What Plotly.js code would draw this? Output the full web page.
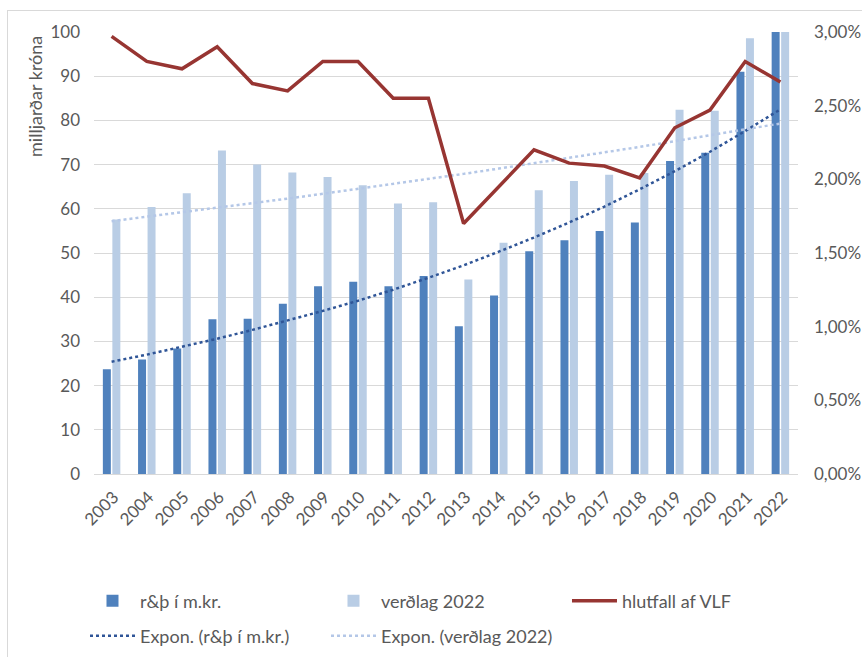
<!DOCTYPE html>
<html>
<head>
<meta charset="utf-8">
<script src="https://cdn.plot.ly/plotly-3.0.1.min.js"></script>
<style>
  html, body { margin:0; padding:0; background:#fff; }
  #chart { width:862px; height:657px; position:relative; }
  #frame { position:absolute; left:7px; top:10px; width:900px; height:700px;
           border-left:1px solid #d9d9d9; border-top:1px solid #d9d9d9; pointer-events:none; }
</style>
</head>
<body>
<div id="chart"></div>
<div id="frame"></div>
<script>
const years = ["2003","2004","2005","2006","2007","2008","2009","2010","2011","2012",
               "2013","2014","2015","2016","2017","2018","2019","2020","2021","2022"];
const rdNominal = [23.7,25.9,28.4,35.0,35.1,38.5,42.5,43.5,42.5,44.8,
                   33.4,40.4,50.4,52.9,55.0,56.9,70.8,72.7,91.0,100.0];
const rdPrices2022 = [57.6,60.4,63.5,73.2,70.0,68.2,67.2,65.3,61.2,61.5,
                      44.0,52.3,64.2,66.3,67.7,68.1,82.4,82.2,98.6,100.0];
const shareGDP = [0.0297,0.0280,0.0275,0.0290,0.0265,0.0260,0.0280,0.0280,0.0255,0.0255,
                  0.0170,0.0195,0.0220,0.0211,0.0209,0.0201,0.0235,0.0247,0.0280,0.0266];
const trendNominal = [25.4,27.0,28.8,30.6,32.6,34.7,36.9,39.2,41.7,44.4,
                      47.2,50.3,53.5,56.9,60.5,64.4,68.5,72.9,77.6,82.5];
const trendPrices = [57.2,58.2,59.2,60.2,61.3,62.3,63.4,64.5,65.6,66.8,
                     67.9,69.1,70.3,71.5,72.8,74.0,75.3,76.6,78.0,79.3];

const names = ["r&þ í m.kr.","verðlag 2022","hlutfall af VLF",
               "Expon. (r&þ í m.kr.)","Expon. (verðlag 2022)"];

const FONT = "Lato, 'Open Sans', sans-serif";
const GREY = "#595959";

const traces = [
  {type:"bar", x:years, y:rdNominal, name:names[0], marker:{color:"#4f81bd"}, legend:"legend"},
  {type:"bar", x:years, y:rdPrices2022, name:names[1], marker:{color:"#b9cde5"}, legend:"legend"},
  {type:"scatter", mode:"lines", x:years, y:shareGDP, name:names[2], yaxis:"y2",
   line:{color:"#973532", width:3.5}, legend:"legend"},
  {type:"scatter", mode:"lines", x:years, y:trendNominal, name:names[3],
   line:{color:"#2f5597", width:2.5, dash:"dot"}, legend:"legend2"},
  {type:"scatter", mode:"lines", x:years, y:trendPrices, name:names[4],
   line:{color:"#b4c7e7", width:2.5, dash:"dot"}, legend:"legend2"}
];

const legendCommon = {orientation:"h", xanchor:"left", yanchor:"middle",
  itemwidth:45, entrywidth:181, entrywidthmode:"pixels",
  font:{size:18, color:GREY}, bgcolor:"rgba(0,0,0,0)"};

const layout = {
  width:862, height:657,
  margin:{l:94, r:64, t:32, b:183, autoexpand:false},
  paper_bgcolor:"#fff", plot_bgcolor:"#fff",
  font:{family:FONT, color:GREY, size:15},
  separators:",.",
  barmode:"group", bargap:0.46, bargroupgap:0.16,
  showlegend:true,
  xaxis:{type:"category", tickangle:-45, showgrid:false, zeroline:false, automargin:false,
         showline:false, ticks:"", tickfont:{size:17, color:GREY},
         ticklabelstandoff:9, ticklabelshift:2},
  yaxis:{range:[0,100], dtick:10, showgrid:true, gridcolor:"#d9d9d9", gridwidth:1, automargin:false,
         zeroline:true, zerolinecolor:"#d9d9d9", zerolinewidth:1, showline:false, ticks:"",
         tickfont:{size:17, color:GREY}, ticklabelstandoff:13},
  yaxis2:{overlaying:"y", side:"right", range:[0,0.03], dtick:0.005, tickformat:".2%",
          showgrid:false, zeroline:false, showline:false, ticks:"", automargin:false,
          tickfont:{size:17, color:GREY}, ticklabelstandoff:15},
  legend:Object.assign({x:-0.0128, y:-0.2873}, legendCommon),
  legend2:Object.assign({x:-0.0128, y:-0.3665}, legendCommon),
  annotations:[
    {text:"milljarðar króna", xref:"paper", yref:"paper", x:-0.0838, y:0.853,
     xanchor:"center", yanchor:"middle", textangle:-90, showarrow:false,
     font:{size:18, color:GREY}}
  ]
};

Plotly.newPlot("chart", traces, layout, {displayModeBar:false, staticPlot:true});
</script>
</body>
</html>
